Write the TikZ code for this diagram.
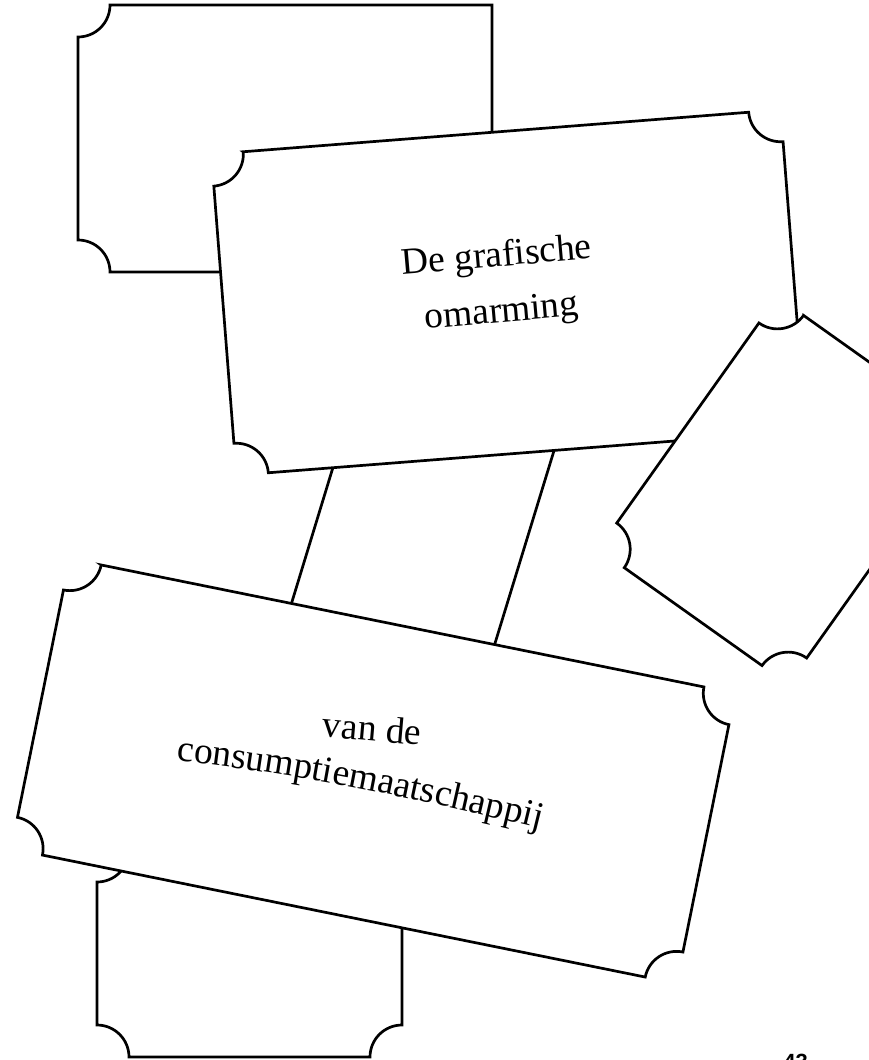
\documentclass[tikz,border=0pt]{standalone}
\usepackage{fontspec}
\setmainfont{Liberation Serif}
\newfontfamily\pagenumfont{Liberation Sans}
\usetikzlibrary{decorations.text}
% ticket shape: cx, cy, width, height, angle, notch radius
\newcommand{\ticketshape}[6]{%
\begin{scope}[shift={(#1,#2)},rotate=#5]
\pgfmathsetmacro\hw{#3/2}\pgfmathsetmacro\hh{#4/2}%
\pgfmathsetmacro\rr{#6}\pgfmathsetmacro\kr{0.5523*#6}%
\path[ticketline] (-\hw+\rr,-\hh) -- (\hw-\rr,-\hh)
 .. controls (\hw-\rr,-\hh+\kr) and (\hw-\kr,-\hh+\rr) .. (\hw,-\hh+\rr)
 -- (\hw,\hh-\rr)
 .. controls (\hw-\kr,\hh-\rr) and (\hw-\rr,\hh-\kr) .. (\hw-\rr,\hh)
 -- (-\hw+\rr,\hh)
 .. controls (-\hw+\rr,\hh-\kr) and (-\hw+\kr,\hh-\rr) .. (-\hw,\hh-\rr)
 -- (-\hw,-\hh+\rr)
 .. controls (-\hw+\kr,-\hh+\rr) and (-\hw+\rr,-\hh+\kr) .. cycle;
\end{scope}}
\begin{document}
\begin{tikzpicture}[x=1pt,y=-1pt,
  ticketline/.style={draw=black,fill=white,line width=2.7pt,line join=miter},
  conn/.style={draw=black,line width=2.7pt,shorten <=-4pt,shorten >=-4pt},
  lbl/.style={font=\fontsize{37.5}{44}\selectfont,inner sep=0pt}]
\useasboundingbox (0,0) rectangle (868,1060);
% top-left card (plain top-right corner)
\path[ticketline] (110,5) -- (492,5) -- (492,240)
 .. controls (474.3,240) and (460,254.3) .. (460,272)
 -- (110,272)
 .. controls (110,254.3) and (95.7,240) .. (78,240)
 -- (78,37)
 .. controls (95.7,37) and (110,22.7) .. cycle;
% connectors
\coordinate (a1) at (332.7,468.3);
\coordinate (a2) at (291.7,602.7);
\coordinate (b1) at (554,450.7);
\coordinate (b2) at (495,643.3);
\draw[conn] (a1) -- (a2);
\draw[conn] (b1) -- (b2);
% title card
\ticketshape{508.5}{292.5}{571}{322}{4.47}{32}
% right card
\ticketshape{782.8}{490.5}{233}{309.5}{-35.4}{32}
% bottom small card
\ticketshape{249.5}{953.5}{305}{207}{0}{32}
% bottom big card
\ticketshape{373.2}{771}{679}{296}{-11.44}{32}
% texts
\node[lbl,rotate=5,anchor=base] (t1) at (497.5,266.5) {De grafische};
\node[lbl,rotate=5,anchor=base] (t2) at (502.5,322) {omarming};
\node[lbl,rotate=-5,anchor=base] (t3) at (371,741) {van de};
\path[decorate,decoration={text along path,text align=center,
  text={|\fontsize{37.5}{44}\selectfont|consumptiemaatschappij}}]
  (172,760) .. controls (295,773) and (420,799) .. (545,830);
\node[font=\pagenumfont\bfseries\fontsize{22}{22}\selectfont,inner sep=0pt,anchor=north] (pg) at (795.5,1054) {43};
\end{tikzpicture}
\end{document}
